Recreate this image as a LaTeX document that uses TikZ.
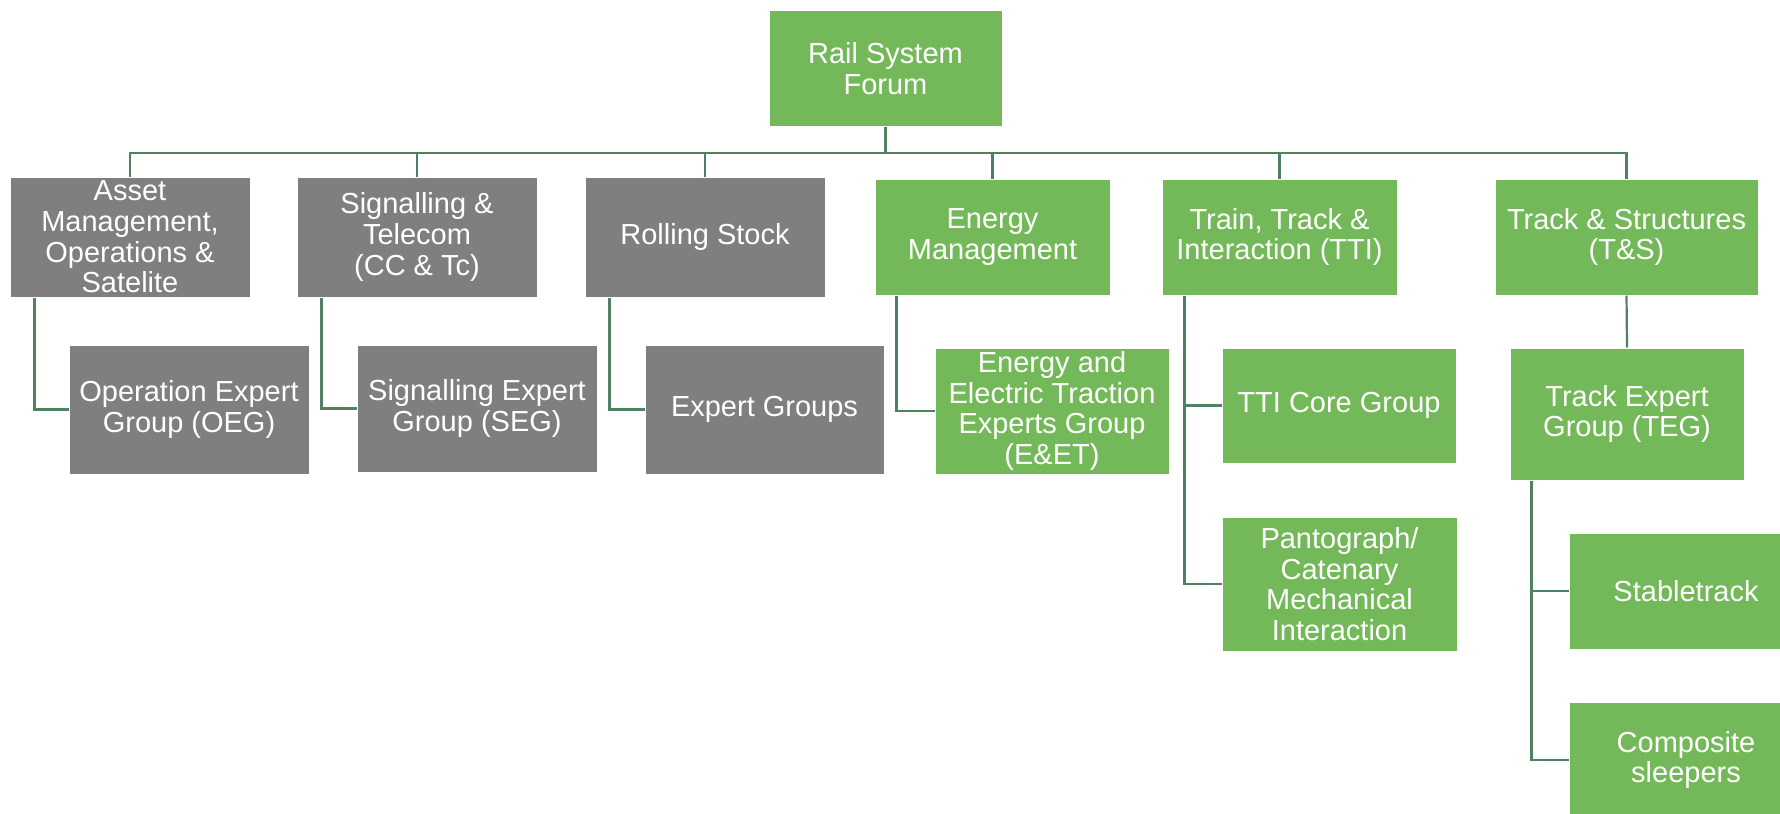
\documentclass[tikz,border=0pt]{standalone}
\usepackage{fontspec}
\setmainfont{Liberation Sans}
\usetikzlibrary{positioning}

\definecolor{boxgreen}{RGB}{116,185,89}
\definecolor{boxgrey}{RGB}{127,127,127}
\definecolor{linkgreen}{RGB}{80,130,98}

\begin{document}
\begin{tikzpicture}[x=0.5pt, y=-0.5pt]
          \tikzstyle{box}=[rectangle, draw=white, line width=0.5pt, inner sep=0pt, align=center,
                           text=white, font=\fontsize{14.5}{15.3}\selectfont]
          \tikzstyle{green}=[box, fill=boxgreen]
          \tikzstyle{grey}=[box, fill=boxgrey]
          \tikzstyle{link}=[draw=linkgreen, line width=1.1pt]

          \useasboundingbox (0,0) rectangle (1780,813);

          % forum
          \node[green, minimum width=116.5pt, minimum height=57.5pt] at (885.5,68.5) (root) {Rail System\\Forum};

          % first level
          \node[grey, minimum width=120pt, minimum height=60pt] at (130,237) (asset) {Asset\\Management,\\Operations \&\\Satelite};
          \node[grey, minimum width=120pt, minimum height=60pt] at (417,237) (sig) {Signalling \&\\Telecom\\(CC \& Tc)};
          \node[grey, minimum width=120pt, minimum height=60pt] at (705,237) (roll) {Rolling Stock};
          \node[green, minimum width=117.5pt, minimum height=58pt] at (992.5,237) (energy) {Energy\\Management};
          \node[green, minimum width=117.5pt, minimum height=58pt] at (1279.5,237) (tti) {Train, Track \&\\Interaction (TTI)};
          \node[green, minimum width=131.5pt, minimum height=58pt] at (1626.5,237) (ts) {Track \& Structures\\(T\&S)};

          % second level
          \node[grey, minimum width=120pt, minimum height=64.5pt] at (189,409.5) (oeg) {Operation Expert\\Group (OEG)};
          \node[grey, minimum width=120pt, minimum height=63.5pt] at (477,408.5) (seg) {Signalling Expert\\Group (SEG)};
          \node[grey, minimum width=119.5pt, minimum height=64.5pt] at (764.5,409.5) (expg) {Expert Groups};
          \node[green, minimum width=117pt, minimum height=63pt] at (1052,411) (eet) {Energy and\\Electric Traction\\Experts Group\\(E\&ET)};
          \node[green, minimum width=117pt, minimum height=57.5pt] at (1339,405.5) (core) {TTI Core Group};
          \node[green, minimum width=117.5pt, minimum height=67pt] at (1339.5,584) (panto) {Pantograph/\\Catenary\\Mechanical\\Interaction};
          \node[green, minimum width=117pt, minimum height=66pt] at (1627,414) (teg) {Track Expert\\Group (TEG)};

          % third level
          \node[green, minimum width=117pt, minimum height=58pt] at (1686,591) (stable) {Stabletrack};
          \node[green, minimum width=117pt, minimum height=58pt] at (1686,760) (comp) {Composite\\sleepers};

          \coordinate (bus) at (0,153);
          \foreach \n in {asset, sig, roll, energy, tti, ts}
            \draw[link] (root.south) -- (root.south |- bus) -| (\n.north);

          \draw[link] ([xshift=12.5pt]asset.south west) |- (oeg.west);
          \draw[link] ([xshift=12.5pt]sig.south west) |- (seg.west);
          \draw[link] ([xshift=12.5pt]roll.south west) |- (expg.west);
          \draw[link] ([xshift=11pt]energy.south west) |- (eet.west);
          \draw[link] ([xshift=11.5pt]tti.south west) |- (core.west);
          \draw[link] ([xshift=11.5pt]tti.south west) |- (panto.west);
          \draw[link] (ts.south) -- (teg.north);
          \draw[link] ([xshift=11pt]teg.south west) |- (stable.west);
          \draw[link] ([xshift=11pt]teg.south west) |- (comp.west);

        \end{tikzpicture}
\end{document}
